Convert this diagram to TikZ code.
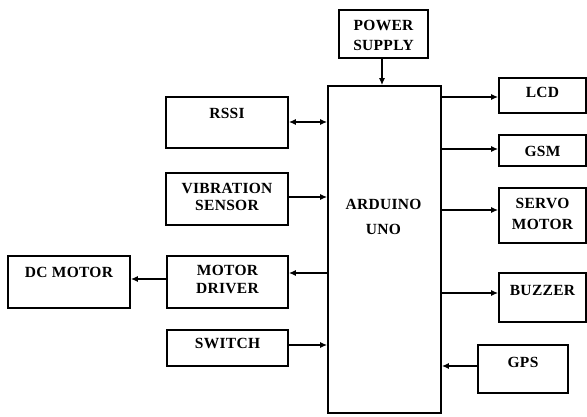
\documentclass[tikz,border=0pt]{standalone}
\usepackage{fontspec}
\setmainfont{Liberation Serif}
\newfontfamily\lblfont[LetterSpace=2]{Liberation Serif}
\usetikzlibrary{arrows.meta}
\begin{document}
\begin{tikzpicture}[x=1pt,y=-1pt,
  box/.style={draw,line width=1.7pt,inner sep=0pt},
  txt/.style={font=\lblfont\bfseries\fontsize{15.5}{18}\selectfont,align=center,inner sep=0pt},
  conn/.style={line width=1.4pt,-{Latex[length=7pt,width=6pt]}},
  bconn/.style={line width=1.4pt,{Latex[length=7pt,width=6pt]}-{Latex[length=7pt,width=6pt]}}]
\useasboundingbox (0,0) rectangle (587,417);
% boxes
\node[box,minimum width=89pt,minimum height=48pt] (power) at (383.5,34) {};
\node[box,minimum width=113pt,minimum height=327pt] (ard) at (384.5,249.5) {};
\node[box,minimum width=122pt,minimum height=51pt] (rssi) at (227,122.5) {};
\node[box,minimum width=122pt,minimum height=52pt] (vib) at (227,199) {};
\node[box,minimum width=121pt,minimum height=52pt] (mdrv) at (227.5,282) {};
\node[box,minimum width=122pt,minimum height=52pt] (dcm) at (69,282) {};
\node[box,minimum width=121pt,minimum height=36pt] (sw) at (227.5,348) {};
\node[box,minimum width=87pt,minimum height=35pt] (lcd) at (542.5,95.5) {};
\node[box,minimum width=87pt,minimum height=31pt] (gsm) at (542.5,150.5) {};
\node[box,minimum width=87pt,minimum height=55pt] (servo) at (542.5,215.5) {};
\node[box,minimum width=87pt,minimum height=49pt] (buzz) at (542.5,297.5) {};
\node[box,minimum width=90pt,minimum height=48pt] (gps) at (523,369) {};
% texts
\node[txt,font=\lblfont\bfseries\fontsize{15.5}{20}\selectfont] (powert) at (383.5,35) {POWER\\SUPPLY};
\node[txt,font=\lblfont\bfseries\fontsize{15.5}{25}\selectfont] (ardt) at (383.5,216.5) {ARDUINO\\UNO};
\node[txt] (rssit) at (227,113) {RSSI};
\node[txt,font=\lblfont\bfseries\fontsize{15.5}{17}\selectfont] (vibt) at (227,196.5) {VIBRATION\\SENSOR};
\node[txt] (mdrvt) at (227.5,279) {MOTOR\\DRIVER};
\node[txt] (dcmt) at (69,272) {DC MOTOR};
\node[txt] (swt) at (227.5,343) {SWITCH};
\node[txt] (lcdt) at (542.5,92) {LCD};
\node[txt] (gsmt) at (542.5,151) {GSM};
\node[txt,font=\lblfont\bfseries\fontsize{15.5}{21}\selectfont] (servot) at (542.5,213.5) {SERVO\\MOTOR};
\node[txt] (buzzt) at (542.5,290) {BUZZER};
\node[txt] (gpst) at (523,362) {GPS};
% connectors
\draw[conn] (power.south -| 382,0) -- (ard.north -| 382,0);
\draw[bconn] (rssi.east |- 0,122) -- (ard.west |- 0,122);
\draw[conn] (vib.east |- 0,197) -- (ard.west |- 0,197);
\draw[conn] (ard.west |- 0,273) -- (mdrv.east |- 0,273);
\draw[conn] (mdrv.west |- 0,279) -- (dcm.east |- 0,279);
\draw[conn] (sw.east |- 0,345) -- (ard.west |- 0,345);
\draw[conn] (ard.east |- 0,97) -- (lcd.west |- 0,97);
\draw[conn] (ard.east |- 0,149) -- (gsm.west |- 0,149);
\draw[conn] (ard.east |- 0,210) -- (servo.west |- 0,210);
\draw[conn] (ard.east |- 0,293) -- (buzz.west |- 0,293);
\draw[conn] (gps.west |- 0,366) -- (ard.east |- 0,366);
\end{tikzpicture}
\end{document}
